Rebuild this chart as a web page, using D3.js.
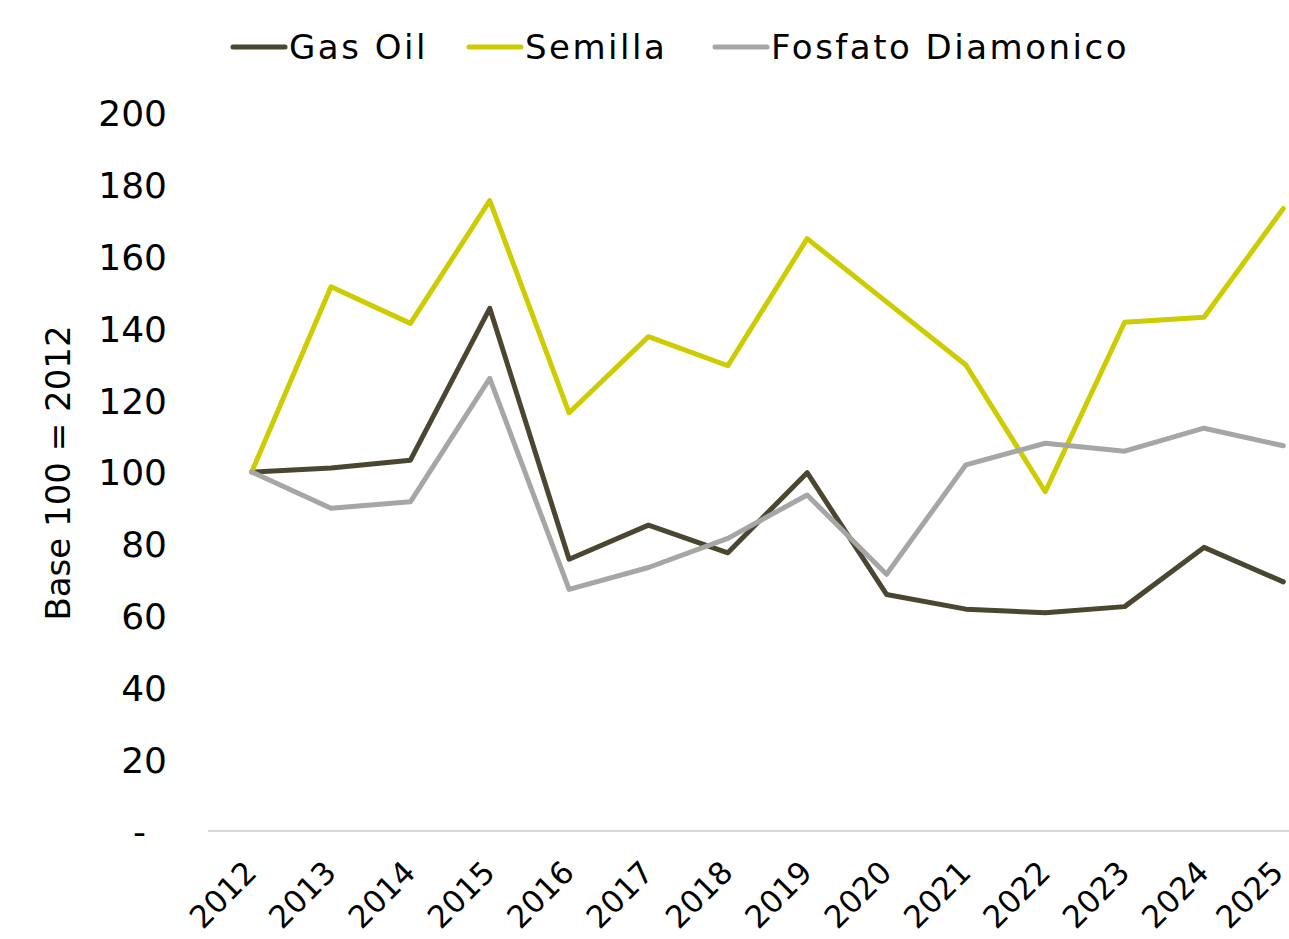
<!DOCTYPE html>
<html>
<head>
<meta charset="utf-8"/>
<script src="https://d3js.org/d3.v7.min.js"></script>
<style>
  body { margin: 0; background: #fff; }
  text { font-family: "DejaVu Sans", sans-serif; fill: #000; }
</style>
</head>
<body>
<script>
var years = ["2012","2013","2014","2015","2016","2017","2018","2019","2020","2021","2022","2023","2024","2025"];
var gasOil = [100, 101.1, 103.3, 145.6, 75.7, 85.2, 77.5, 99.8, 65.9, 61.8, 60.8, 62.5, 79.0, 69.4];
var semilla = [100, 151.6, 141.4, 175.6, 116.5, 137.7, 129.6, 165.0, 147.4, 129.8, 94.5, 141.7, 143.1, 173.4];
var fosfato = [100, 89.9, 91.7, 126.1, 67.3, 73.4, 81.5, 93.6, 71.5, 102.0, 108.0, 105.8, 112.2, 107.3];
var yTicks = [0, 20, 40, 60, 80, 100, 120, 140, 160, 180, 200];
var seriesNames = ["Gas Oil", "Semilla", "Fosfato Diamonico"];
var seriesColors = ["#4b4630", "#cccc00", "#a6a6a6"];

var width = 1289, height = 939;
var svg = d3.select("body").append("svg").attr("width", width).attr("height", height);

var x = d3.scalePoint().domain(years).range([212, 1323]).padding(0.5);
var y = d3.scaleLinear().domain([0, 200]).range([831, 113]);

// y axis labels
var yAxis = d3.axisLeft(y).tickValues(yTicks).tickSize(0).tickPadding(0)
  .tickFormat(function(d){ return d === 0 ? "-" : d; });
var gy = svg.append("g").attr("transform", "translate(167,0)").call(yAxis);
gy.select(".domain").remove();
gy.selectAll("text").attr("font-size", 36).attr("font-family", "DejaVu Sans").attr("fill", "#000")
  .attr("dy", "0.36em")
  .attr("dx", function(d){ return d === 0 ? -21 : 0; });

// x axis
var xAxis = d3.axisBottom(x).tickSize(0).tickPadding(0);
var gx = svg.append("g").attr("transform", "translate(0,831)").call(xAxis);
gx.select(".domain").remove();
svg.append("line").attr("x1", 208).attr("x2", 1289).attr("y1", 831).attr("y2", 831)
  .attr("stroke", "#d9d9d9").attr("stroke-width", 2);
gx.selectAll("text").attr("font-size", 31).attr("font-family", "DejaVu Sans").attr("fill", "#000")
  .attr("text-anchor", "end")
  .attr("transform", function(d, i){
    // last label nudged left so it stays inside the frame
    var dx = i === years.length - 1 ? -14 : -9;
    return "translate(" + dx + ",28) rotate(-45)";
  })
  .attr("dy", "0.7em");

// y title
svg.append("text").attr("transform", "translate(70,473) rotate(-90)")
  .attr("text-anchor", "middle").attr("font-size", 34).text("Base 100 = 2012");

var line = d3.line().x(function(d, i){ return x(years[i]); }).y(function(d){ return y(d); });
[gasOil, semilla, fosfato].forEach(function(s, k){
  svg.append("path").datum(s).attr("d", line).attr("fill", "none")
    .attr("stroke", seriesColors[k]).attr("stroke-width", 5)
    .attr("stroke-linejoin", "round").attr("stroke-linecap", "round");
});

// legend
var legX = [233, 469, 715];
seriesNames.forEach(function(n, k){
  svg.append("line").attr("x1", legX[k]).attr("x2", legX[k] + 52).attr("y1", 47).attr("y2", 47)
    .attr("stroke", seriesColors[k]).attr("stroke-width", 5).attr("stroke-linecap", "round");
  svg.append("text").attr("x", legX[k] + 56).attr("y", 47).attr("dy", "0.36em")
    .attr("font-size", 34).attr("letter-spacing", 2.5).text(n);
});
</script>
</body>
</html>
